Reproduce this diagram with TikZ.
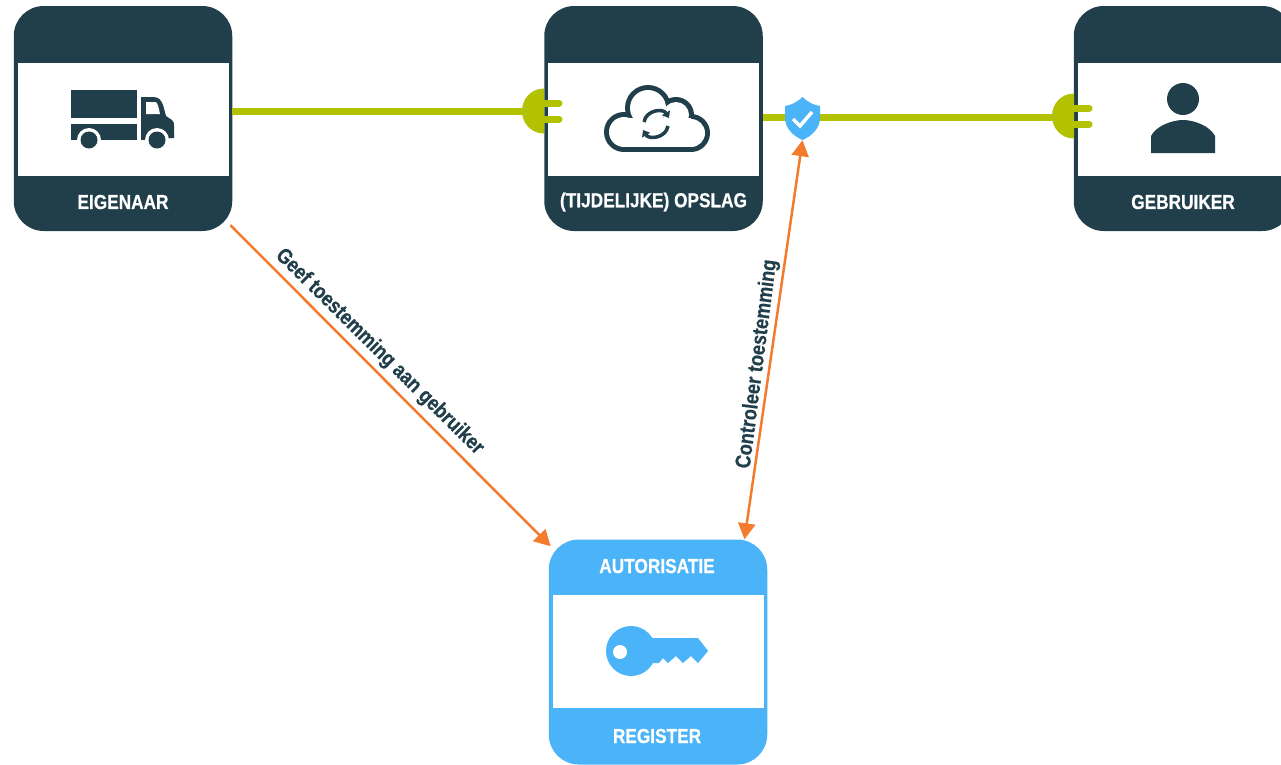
\documentclass[tikz,border=0pt]{standalone}
\usepackage{fontspec}
\setmainfont{Liberation Sans}[FakeStretch=0.85, BoldFeatures={FakeBold=0.5}]
\usetikzlibrary{arrows.meta, positioning}
\definecolor{tegelblauw}{RGB}{33,62,75}
\definecolor{lichtblauw}{RGB}{75,179,247}
\definecolor{stekkergroen}{RGB}{178,193,0}
\definecolor{pijloranje}{RGB}{244,122,46}
\tikzset{
    tegel/.style={rectangle, rounded corners=30pt, minimum width=218.5pt, minimum height=225pt, inner sep=0pt},
    paneel/.style={rectangle, fill=white, minimum width=211pt, minimum height=113pt, inner sep=0pt},
    tegeltekst/.style={text=white, font=\fontsize{20.3}{24}\selectfont\bfseries, inner sep=0pt},
    lijntekst/.style={text=tegelblauw, font=\fontsize{21.4}{25}\selectfont\bfseries, inner sep=0pt},
    groenlijn/.style={draw=stekkergroen, line width=7pt},
    pijl/.style={draw=pijloranje, line width=2.5pt, -{Triangle[length=16pt,width=17pt]}},
}

\begin{document}
\begin{tikzpicture}[x=1pt, y=-1pt]
    \path[use as bounding box, clip] (0,0) rectangle (1281,764);

    % Tegels met paneel en tekst
    \foreach \naam/\x/\tekst in {eigenaar/123/EIGENAAR, opslag/653.5/(TIJDELIJKE) OPSLAG, gebruiker/1183/GEBRUIKER} {
        \node[tegel, fill=tegelblauw] (\naam) at (\x,118.5) {};
        \node[paneel] (\naam paneel) at (\x,119.5) {};
        \node[tegeltekst] (\naam tekst) at (\x,202) {\tekst};
    }
    \node[tegel, fill=lichtblauw] (register) at (658,652) {};
    \node[paneel] (register paneel) at (658,651.5) {};
    \node[tegeltekst] (autorisatie tekst) at (657,566) {AUTORISATIE};
    \node[tegeltekst] (register tekst) at (657,736) {REGISTER};

    % Groene lijnen
    \coordinate (stekker opslag) at (544,111);
    \coordinate (stekker gebruiker) at (1074,117);
    \node[minimum width=35pt, minimum height=43pt, inner sep=0pt] (schild) at (802.5,118.5) {};
    \draw[groenlijn] (eigenaar.east |- stekker opslag) -- (stekker opslag);
    \draw[groenlijn] (opslag.east |- stekker gebruiker) -- (schild.center |- stekker gebruiker) -- (stekker gebruiker);

    % Stekkers
    \foreach \px/\py in {544/111, 1074/116} {
        \begin{scope}[shift={(\px,\py)}]
            \fill[stekkergroen] (0,-22.5) .. controls (-13,-22.5) and (-22,-12) .. (-22,0) .. controls (-22,12) and (-13,22.5) .. (0,22.5) -- cycle;
            \draw[stekkergroen, line width=7pt, line cap=round] (0,-8) -- (15,-8);
            \draw[stekkergroen, line width=7pt, line cap=round] (0,8) -- (15,8);
        \end{scope}
    }

    % Schild
    \fill[lichtblauw] (802.5,97) .. controls (796,103) and (791,105) .. (785,106) -- (785,118) .. controls (785,128) and (793,136) .. (802.5,140) .. controls (812,136) and (820,128) .. (820,118) -- (820,106) .. controls (814,105) and (809,103) .. (802.5,97) -- cycle;
    \draw[white, line width=3.5pt] (793,119) -- (800,126) -- (812,112);

    % Vrachtwagen
    \fill[tegelblauw] (70.5,90) rectangle (136.5,118);
    \fill[tegelblauw] (70.5,124) rectangle (136.5,140);
    \fill[tegelblauw] (141,97) -- (153,97) .. controls (159,97) and (161,100) .. (163,105) -- (166,116) -- (172,120) .. controls (174,122) and (174,123) .. (174,126) -- (174,138) -- (141,140) -- cycle;
    \fill[white] (146,102) -- (155,102) .. controls (157,102) and (158,104) .. (160,114) -- (146,114) -- cycle;
    \foreach \wx in {89,157} {
        \fill[white] (\wx,140) circle (12);
        \fill[tegelblauw] (\wx,140) circle (8.5);
    }

    % Wolk
    \foreach \cx/\cy/\cr in {624/132/20, 648/108/23, 676/115/18, 691/133/19} {
        \fill[tegelblauw] (\cx,\cy) circle (\cr);
    }
    \fill[tegelblauw] (624,128) rectangle (691,152);
    \foreach \cx/\cy/\cr in {624/132/15, 648/108/18, 676/115/13, 691/133/14} {
        \fill[white] (\cx,\cy) circle (\cr);
    }
    \fill[white] (624,118) rectangle (691,147);
    \draw[tegelblauw, line width=3.5pt, -{Triangle[length=6pt,width=9pt]}] (644,122) .. controls (646,110) and (663,108) .. (669,118);
    \draw[tegelblauw, line width=3.5pt, -{Triangle[length=6pt,width=9pt]}] (668,126) .. controls (666,138) and (649,140) .. (643,130);

    % Persoon
    \fill[tegelblauw] (1183,99) circle (16);
    \fill[tegelblauw] (1151,153) -- (1151,136) .. controls (1156,126) and (1172,120) .. (1183,120) .. controls (1194,120) and (1210,126) .. (1215,136) -- (1215,153) -- cycle;

    % Sleutel
    \fill[lichtblauw] (631,651) circle (25);
    \fill[lichtblauw] (645,638) -- (698,638) -- (708,651) -- (698,663) -- (691,656) -- (683,663) -- (676,656) -- (668,663) -- (663,658) -- (659,663) -- (645,663) -- cycle;
    \fill[white] (620,652) circle (7);

    % Pijlen
    \draw[pijl] ([shift={(-2,-6)}]eigenaar.south east) -- ([shift={(2,7)}]register.north west);
    \draw[pijl, {Triangle[length=16pt,width=17pt]}-{Triangle[length=16pt,width=17pt]}] ([shift={(-23,0)}]register.north east) -- (schild.south);
    \node[lijntekst, rotate=-44.6] (geef tekst) at (379.5,352) {Geef toestemming aan gebruiker};
    \node[lijntekst, rotate=82.7] (controleer tekst) at (757.5,364) {Controleer toestemming};
\end{tikzpicture}
\end{document}
